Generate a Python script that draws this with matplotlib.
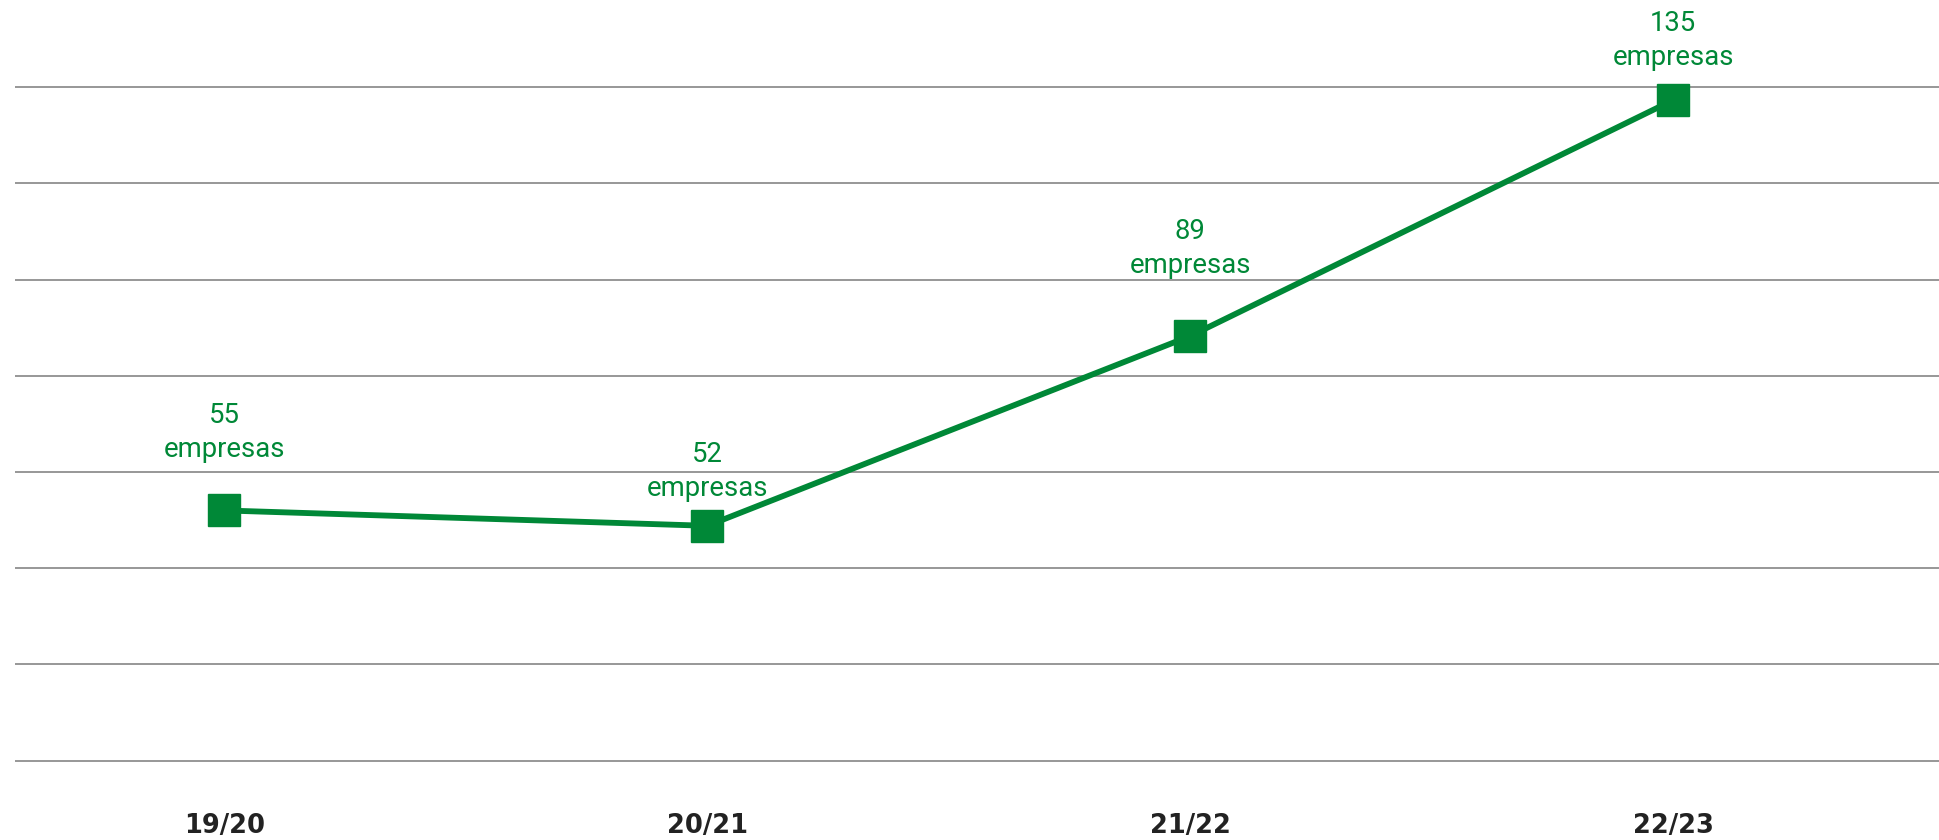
import matplotlib
matplotlib.use('Agg')
import matplotlib.pyplot as plt
import numpy as np

# data
seasons = ['19/20', '20/21', '21/22', '22/23']
companies = [55, 52, 89, 135]
unit_label = 'empresas'

# label offsets above each point (points) - layout only
label_offsets = [56, 39, 63, 43]

GREEN = '#008837'
GRID = '#7a7a7a'

plt.rcParams['font.family'] = ['Roboto', 'DejaVu Sans']

fig = plt.figure(figsize=(19.39, 8.40), dpi=100)
ax = fig.add_axes([15 / 1939, 50 / 840, 1 - 15 / 1939, 790 / 840])

x = np.arange(len(seasons))
ax.plot(x, companies, color=GREEN, linewidth=4.2, marker='s', markersize=23.5,
        markerfacecolor=GREEN, markeredgecolor=GREEN, zorder=3, clip_on=False)

for xi, val, off in zip(x, companies, label_offsets):
    ax.annotate(f'{val}\n{unit_label}', xy=(xi, val), xytext=(0, off),
                textcoords='offset points', ha='center', va='center',
                color=GREEN, fontsize=19.8, linespacing=1.32)

# horizontal guide lines
grid_levels = 6.25 + 18.75 * np.arange(8)
for g in grid_levels:
    ax.axhline(g, color=GRID, linewidth=1.1, zorder=1)

ax.set_xlim(-0.433, 3.55)
ax.set_ylim(0.5, 154.5)
ax.set_yticks([])
ax.set_xticks(x)
ax.set_xticklabels(seasons, fontsize=18.5, fontweight='bold', color='#222222',
                   family='DejaVu Sans')
ax.tick_params(axis='x', length=0, pad=16.5)
for s in ax.spines.values():
    s.set_visible(False)

fig.savefig('out.png', dpi=100)
